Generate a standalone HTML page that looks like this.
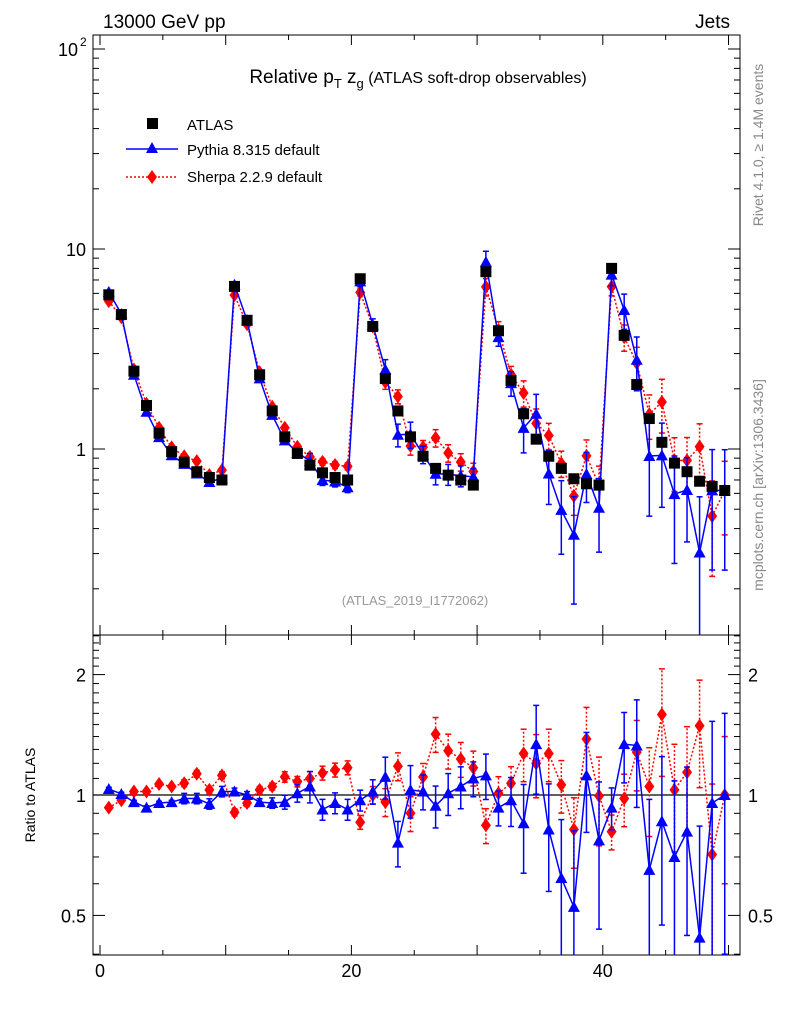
<!DOCTYPE html>
<html><head><meta charset="utf-8"><style>
html,body{margin:0;padding:0;background:#fff;font-family:"Liberation Sans",sans-serif;overflow:hidden;width:786px;height:1024px}
svg{display:block}
svg text{font-family:"Liberation Sans",sans-serif}
</style></head><body>
<svg id="c" width="786" height="1024" xmlns="http://www.w3.org/2000/svg">
<rect width="786" height="1024" fill="#fff"/>
<text x="103" y="28" font-size="19">13000 GeV pp</text>
<text x="730" y="28" font-size="19" text-anchor="end">Jets</text>
<text x="418" y="83" font-size="19" text-anchor="middle">Relative p<tspan font-size="13" dy="5">T</tspan><tspan dy="-5"> z</tspan><tspan font-size="13" dy="5">g</tspan><tspan dy="-5" font-size="16"> (ATLAS soft-drop observables)</tspan></text>
<text x="415" y="605" font-size="13" fill="#999" text-anchor="middle">(ATLAS_2019_I1772062)</text>
<text transform="translate(763,145) rotate(-90)" font-size="14" fill="#888" text-anchor="middle">Rivet 4.1.0, ≥ 1.4M events</text>
<text transform="translate(763,485) rotate(-90)" font-size="14" fill="#888" text-anchor="middle">mcplots.cern.ch [arXiv:1306.3436]</text>
<text transform="translate(35,795) rotate(-90)" font-size="14" text-anchor="middle">Ratio to ATLAS</text>
<g>
<rect x="147" y="118" width="11" height="11" fill="#000"/>
<text x="187" y="130" font-size="15">ATLAS</text>
<line x1="126" y1="149" x2="178" y2="149" stroke="#00f" stroke-width="1.5"/>
<path d="M152,142 L158,153 L146,153 Z" fill="#00f"/>
<text x="187" y="155" font-size="15">Pythia 8.315 default</text>
<line x1="126" y1="177" x2="178" y2="177" stroke="#f00" stroke-width="1.5" stroke-dasharray="2,2"/>
<path d="M152,170 L157,177 L152,184 L147,177 Z" fill="#f00"/>
<text x="187" y="182" font-size="15">Sherpa 2.2.9 default</text>
</g>
<g id="plot"></g>
</svg>
<script>
const atlas=[5.9,4.7,2.45,1.65,1.2,0.97,0.86,0.77,0.72,0.70,6.5,4.4,2.35,1.55,1.15,0.95,0.83,0.76,0.72,0.70,7.1,4.1,2.25,1.55,1.15,0.92,0.80,0.74,0.70,0.66,7.7,3.9,2.2,1.5,1.12,0.92,0.80,0.71,0.67,0.66,8.0,3.7,2.1,1.42,1.08,0.85,0.77,0.69,0.65,0.62];
const pythiaRatio=[1.035,1.006,0.96,0.93,0.955,0.96,0.98,0.98,0.95,1.02,1.02,1.0,0.96,0.955,0.96,1.01,1.05,0.92,0.955,0.92,0.97,1.02,1.11,0.76,1.03,1.02,0.94,1.01,1.05,1.10,1.12,0.93,0.97,0.85,1.34,0.82,0.62,0.525,1.12,0.77,0.93,1.34,1.33,0.65,0.86,0.70,0.81,0.44,0.955,1.0];
const sherpaRatio=[0.93,0.97,1.02,1.02,1.065,1.05,1.07,1.13,1.03,1.12,0.905,0.955,1.03,1.05,1.11,1.08,1.10,1.135,1.155,1.17,0.855,1.0,0.96,1.18,0.90,1.11,1.42,1.29,1.23,1.17,0.84,1.01,1.07,1.27,1.20,1.27,1.06,0.82,1.38,0.995,0.81,0.98,1.28,1.05,1.59,1.03,1.14,1.49,0.71,1.0];
const pythiaErr=[0.01,0.01,0.01,0.01,0.01,0.01,0.03,0.03,0.03,0.03,0.02,0.02,0.02,0.03,0.04,0.05,0.09,0.06,0.06,0.06,0.06,0.07,0.12,0.13,0.15,0.10,0.12,0.12,0.12,0.10,0.13,0.10,0.14,0.25,0.25,0.30,0.40,0.55,0.28,0.40,0.12,0.20,0.30,0.50,0.45,0.55,0.45,0.9,0.6,0.6];
const sherpaErr=[0.01,0.01,0.01,0.01,0.01,0.01,0.02,0.02,0.02,0.02,0.02,0.02,0.02,0.02,0.03,0.03,0.04,0.04,0.04,0.04,0.04,0.05,0.08,0.08,0.10,0.08,0.10,0.10,0.10,0.10,0.10,0.10,0.10,0.15,0.18,0.15,0.15,0.20,0.20,0.25,0.10,0.15,0.20,0.25,0.30,0.30,0.30,0.30,0.50,0.40];
const xTicks=[0,20,40];
const ratioTicks=[0.5,1,2];

const NS="http://www.w3.org/2000/svg";
const P=document.getElementById('plot');
const L=93,R=740,T=35,M=635,B=955;
const xs=v=>100+12.57*v;
const ym=v=>449-200*Math.log10(v);
const yr=v=>795-400*Math.log10(v);
function el(tag,attrs,parent){const e=document.createElementNS(NS,tag);for(const k in attrs)e.setAttribute(k,attrs[k]);(parent||P).appendChild(e);return e;}
const defs=el('defs',{});
const c1=el('clipPath',{id:'cm'},defs);el('rect',{x:L,y:T,width:R-L,height:M-T},c1);
const c2=el('clipPath',{id:'cr'},defs);el('rect',{x:L,y:M,width:R-L,height:B-M},c2);
const f1=el('rect',{x:L,y:T,width:R-L,height:M-T,fill:'none',stroke:'#000','stroke-width':1});


const f2=el('rect',{x:L,y:M,width:R-L,height:B-M,fill:'none',stroke:'#000','stroke-width':1});


for(let v=0;v<=50;v+=5){const x=xs(v);const len=v%10==0?10:5;
 el('line',{x1:x,y1:T,x2:x,y2:T+len,stroke:'#000'});el('line',{x1:x,y1:M,x2:x,y2:M-len,stroke:'#000'});
 el('line',{x1:x,y1:M,x2:x,y2:M+len,stroke:'#000'});el('line',{x1:x,y1:B,x2:x,y2:B-len,stroke:'#000'});}
xTicks.forEach(v=>{const t=el('text',{x:xs(v),y:977,'font-size':18,'text-anchor':'middle'});t.textContent=v;
 
 });
for(let d=-1;d<=2;d++){for(let m=1;m<10;m++){const v=m*Math.pow(10,d);const y=ym(v);if(y<T||y>M)continue;const len=m==1?12:6;
 el('line',{x1:L,y1:y,x2:L+len,y2:y,stroke:'#000'});el('line',{x1:R,y1:y,x2:R-len,y2:y,stroke:'#000'});}}
[['1',1],['10',10]].forEach(([s,v])=>{const t=el('text',{x:86,y:ym(v)+7,'font-size':18,'text-anchor':'end'});t.textContent=s;
 
 });
{const t=el('text',{x:78,y:ym(100)+7,'font-size':18,'text-anchor':'end'});t.textContent='10';
 
 
 const s=el('text',{x:80,y:ym(100)-3,'font-size':12});s.textContent='2';}
[0.4,0.5,0.6,0.7,0.8,0.9,1,1.1,1.2,1.3,1.4,1.5,1.6,1.7,1.8,1.9,2,2.1,2.2,2.3,2.4,2.5].forEach(v=>{const y=yr(v);if(y<M||y>B)return;const big=[0.5,1,2].includes(v);const len=big?12:6;
 el('line',{x1:L,y1:y,x2:L+len,y2:y,stroke:'#000'});el('line',{x1:R,y1:y,x2:R-len,y2:y,stroke:'#000'});});
ratioTicks.forEach(v=>{const t=el('text',{x:86,y:yr(v)+7,'font-size':18,'text-anchor':'end'});t.textContent=v;
 
 
 const t2=el('text',{x:748,y:yr(v)+7,'font-size':18});t2.textContent=v;
 
 });
el('line',{x1:L,y1:yr(1),x2:R,y2:yr(1),stroke:'#000','stroke-width':1.2});
const gm=el('g',{'clip-path':'url(#cm)'});const gr=el('g',{'clip-path':'url(#cr)'});
function tri(g,x,y,c){return el('path',{d:`M${x},${y-6} L${x+6},${y+5} L${x-6},${y+5} Z`,fill:c},g);}
function dia(g,x,y,c){return el('path',{d:`M${x},${y-7} L${x+5},${y} L${x},${y+7} L${x-5},${y} Z`,fill:c},g);}
function series(g,vals,errs,yf,top,bot,color,dash,marker,name){
 const cl=y=>Math.min(bot,Math.max(top,y));
 let d='';vals.forEach((v,i)=>{d+=(i?'L':'M')+xs(i+0.7)+','+cl(yf(v));});
 const ln=el('path',{d:d,fill:'none',stroke:color,'stroke-width':1.5,'stroke-dasharray':dash},g);
 
 
 vals.forEach((v,i)=>{const x=xs(i+0.7);const lo=Math.max(v*(1-errs[i]),1e-3),hi=v*(1+errs[i]);
  const ylo=cl(yf(lo)),yhi=cl(yf(hi));
  el('line',{x1:x,y1:ylo,x2:x,y2:yhi,stroke:color,'stroke-width':1.5,'stroke-dasharray':dash},g);
  if(ylo<bot)el('line',{x1:x-3,y1:ylo,x2:x+3,y2:ylo,stroke:color,'stroke-width':1.5},g);
  el('line',{x1:x-3,y1:yhi,x2:x+3,y2:yhi,stroke:color,'stroke-width':1.5},g);
  const m=marker(g,x,yf(v),color);
  
  });
}
const pyMain=atlas.map((a,i)=>a*pythiaRatio[i]);
const shMain=atlas.map((a,i)=>a*sherpaRatio[i]);
series(gm,shMain,sherpaErr,ym,T,M,'#f00','2,2',dia,'sherpa');
series(gm,pyMain,pythiaErr,ym,T,M,'#00f','none',tri,'pythia');
atlas.forEach((v,i)=>{const r=el('rect',{x:xs(i+0.7)-5.5,y:ym(v)-5.5,width:11,height:11,fill:'#000'},gm);
 
 });
series(gr,sherpaRatio,sherpaErr,yr,M,B,'#f00','2,2',dia,'sherpa-ratio');
series(gr,pythiaRatio,pythiaErr,yr,M,B,'#00f','none',tri,'pythia-ratio');
</script>
</body></html>
